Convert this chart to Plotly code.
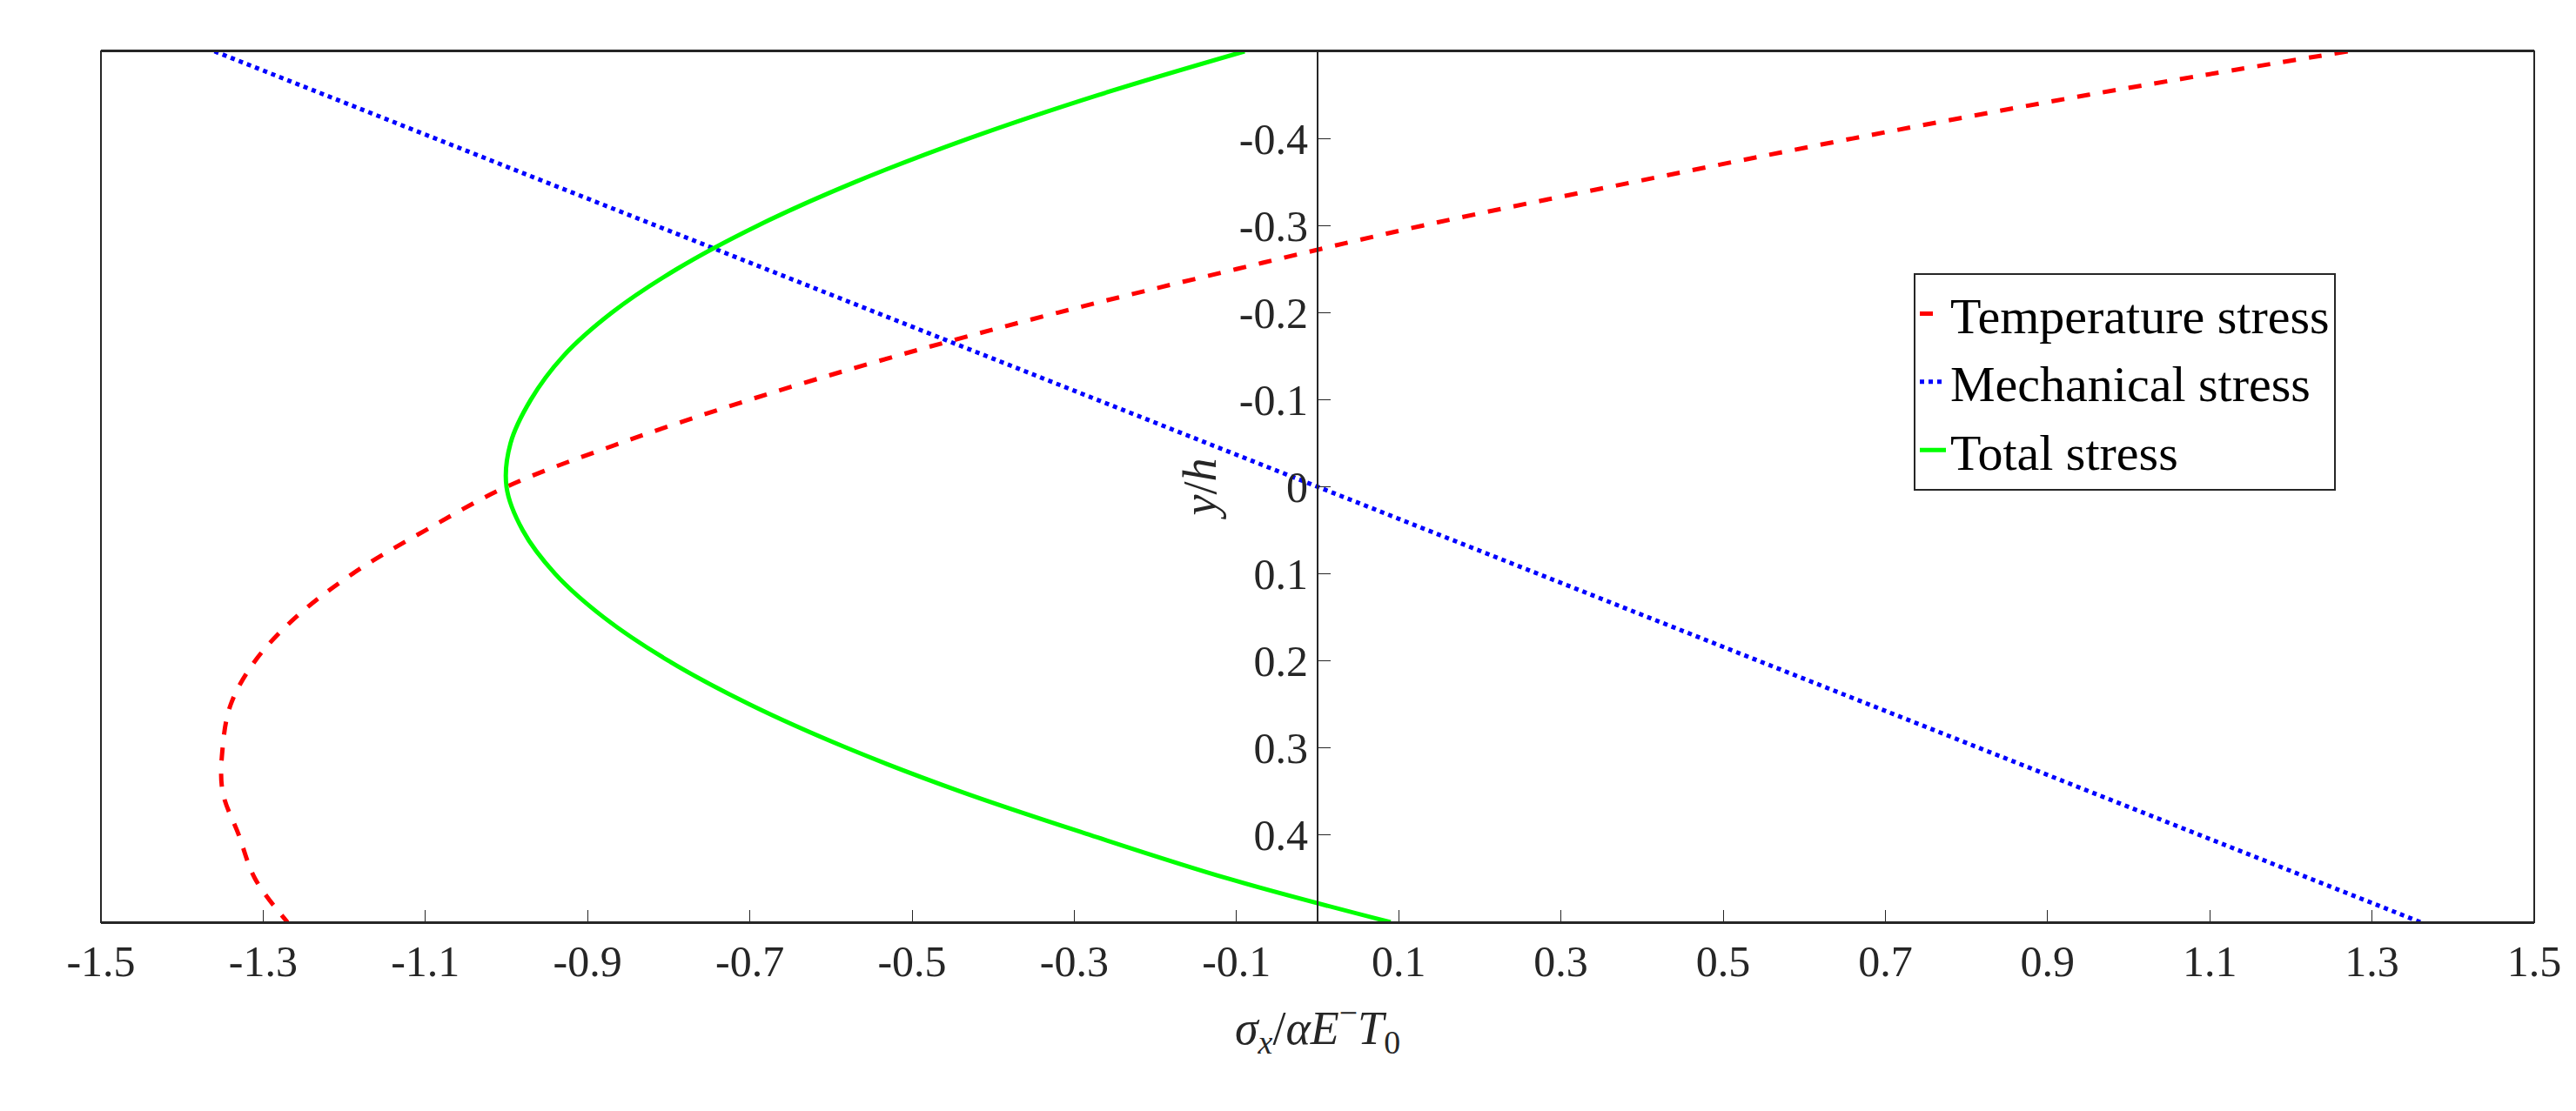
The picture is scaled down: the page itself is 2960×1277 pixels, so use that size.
import plotly.graph_objects as go

# y/h positions and stress values
y_h = [-0.5, -0.45, -0.4, -0.35, -0.3, -0.25, -0.2, -0.15, -0.1, -0.05, 0.0,
       0.05, 0.1, 0.15, 0.2, 0.25, 0.3, 0.35, 0.4, 0.45, 0.5]
temperature = [1.27, 0.95, 0.66, 0.39, 0.13, -0.10, -0.32, -0.52, -0.70, -0.86, -1.0,
               -1.10, -1.19, -1.26, -1.31, -1.34, -1.35, -1.35, -1.33, -1.31, -1.27]
mechanical = [-1.36, -1.224, -1.088, -0.952, -0.816, -0.68, -0.544, -0.408, -0.272, -0.136, 0.0,
              0.136, 0.272, 0.408, 0.544, 0.68, 0.816, 0.952, 1.088, 1.224, 1.36]
total = [-0.09, -0.27, -0.43, -0.57, -0.69, -0.79, -0.87, -0.93, -0.97, -0.995, -1.0,
         -0.98, -0.94, -0.88, -0.80, -0.70, -0.58, -0.44, -0.28, -0.11, 0.09]

x_ticks = [-1.5, -1.3, -1.1, -0.9, -0.7, -0.5, -0.3, -0.1, 0.1, 0.3, 0.5, 0.7, 0.9, 1.1, 1.3, 1.5]
y_ticks = [-0.4, -0.3, -0.2, -0.1, 0, 0.1, 0.2, 0.3, 0.4]

font = "Liberation Serif, Times New Roman, serif"

fig = go.Figure()
fig.add_trace(go.Scatter(x=temperature, y=y_h, mode="lines", name="Temperature stress",
                         line=dict(color="#ff0000", width=5, dash="dash", shape="spline")))
fig.add_trace(go.Scatter(x=mechanical, y=y_h, mode="lines", name="Mechanical stress",
                         line=dict(color="#0000ff", width=5, dash="dot")))
fig.add_trace(go.Scatter(x=total, y=y_h, mode="lines", name="Total stress",
                         line=dict(color="#00ff00", width=5, shape="spline")))

fig.update_layout(
    width=2960, height=1277,
    paper_bgcolor="white", plot_bgcolor="white",
    margin=dict(l=108, r=56, t=51, b=225),
    font=dict(family=font, size=50, color="#262626"),
    showlegend=True,
    legend=dict(x=0.745, y=0.745, xanchor="left", yanchor="top",
                bgcolor="white", bordercolor="#262626", borderwidth=2,
                font=dict(size=58, color="black"), tracegroupgap=0),
    xaxis=dict(range=[-1.5, 1.5], tickvals=x_ticks, ticktext=[f"{v:g}" for v in x_ticks],
               ticks="inside", ticklen=14, tickcolor="#262626", showgrid=False, zeroline=False,
               showline=True, linecolor="#262626", linewidth=2, mirror=True,
               title=dict(text="<i>σ<sub>x</sub></i>/<i>αE</i><sup>−</sup><i>T</i><sub>0</sub>",
                          font=dict(size=54), standoff=30)),
    yaxis=dict(range=[0.5, -0.5], tickvals=y_ticks, ticktext=[f"{v:g}" for v in y_ticks],
               anchor="free", position=0.5, ticks="inside", ticklen=14, tickcolor="#262626",
               showgrid=False, zeroline=False, showline=True, linecolor="#262626", linewidth=2,
               title=dict(text="<i>y</i>/<i>h</i>", font=dict(size=54), standoff=8)),
)
# box around the axes
fig.add_shape(type="rect", xref="paper", yref="paper", x0=0, x1=1, y0=0, y1=1,
              line=dict(color="#262626", width=2))

fig.write_html("out.html")
